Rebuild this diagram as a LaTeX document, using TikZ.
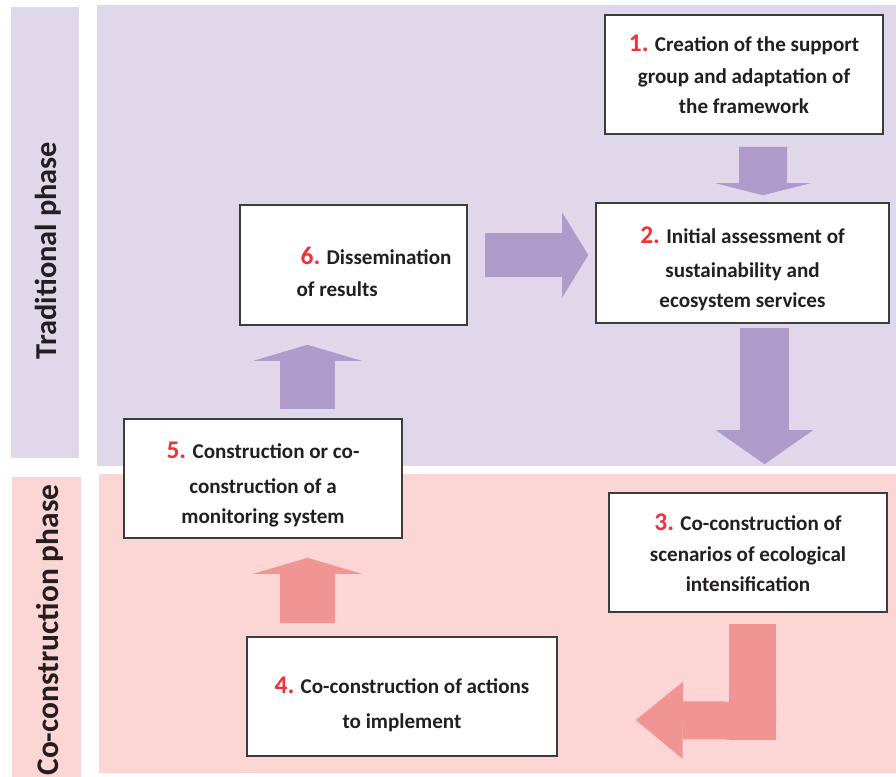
\documentclass[tikz,border=0pt]{standalone}
\usepackage{fontspec}
\setmainfont{Carlito}
\usetikzlibrary{positioning,calc,arrows.meta}
\definecolor{tradbg}{HTML}{E0D7EB}
\definecolor{tradarrow}{HTML}{AE9BC9}
\definecolor{cobg}{HTML}{FCD5D5}
\definecolor{coarrow}{HTML}{F09494}
\definecolor{numred}{HTML}{EE3338}
\definecolor{textdark}{HTML}{231F20}
\definecolor{boxline}{HTML}{3C3C3C}
\newcommand{\stepnum}[1]{{\fontsize{14.5}{17}\selectfont\color{numred}#1}}

\begin{document}
\begin{tikzpicture}
  [x=0.02cm,y=-0.02cm,
   stepN/.style={draw=boxline,line width=0.9pt,fill=white,text=textdark,align=center,
     font=\fontsize{12}{17}\selectfont\bfseries,
     minimum width=5.56cm,minimum height=2.38cm,inner sep=0pt},
   labelN/.style={text=textdark,font=\fontsize{12}{17}\selectfont\bfseries,inner sep=0pt},
   phaseN/.style={rotate=90,text=textdark,font=\fontsize{17.3}{20}\selectfont\bfseries,inner sep=0pt},
   tradA/.style={draw=tradarrow,-{Triangle[line width=0pt,#1]}},
   coA/.style={draw=coarrow,-{Triangle[line width=0pt,#1]}},
  ]

 \useasboundingbox (0,0) rectangle (896,777);

 % phase backgrounds
 \fill[tradbg] (11,7) rectangle (79,458);
 \fill[tradbg] (97,5) rectangle (896,466);
 \fill[cobg] (12,477) rectangle (81,777);
 \fill[cobg] (99,474) rectangle (896,773);

 \node[phaseN,anchor=base] (trad) at (56,250.5) {Traditional phase};
 \node[phaseN,font=\fontsize{17.9}{20}\selectfont\bfseries,anchor=base east] (coco) at (58,484)
   {Co-construction phase};

 % steps
 \node[stepN] (s1) at (744,74.5)
   {\stepnum{1.} Creation of the support\\[1pt]group and adaptation of\\the framework};
 \node[stepN,minimum width=5.86cm,minimum height=2.4cm] (s2) at (742.5,263)
   {{}\\[-1pt]\stepnum{2.} Initial assessment of\\[2.5pt]sustainability and\\ecosystem services};
 \node[stepN] (s3) at (748,552.5)
   {\stepnum{3.} Co-construction of\\[1pt]scenarios of ecological\\intensification};
 \node[stepN,minimum width=6.2cm] (s4) at (402,696.5)
   {{}\\[1pt]\stepnum{4.} Co-construction of actions\\[3pt]to implement};
 \node[stepN] (s5) at (263,478.5)
   {{}\\[-0.5pt]\stepnum{5.} Construction or co-\\[3pt]construction of a\\monitoring system};
 \node[stepN,minimum width=4.54cm,minimum height=2.4cm] (s6) at (353.5,265) {};
 \node[labelN,align=left,anchor=west] (t6) at ($(s6.west)+(57,7)$)
   {\hspace*{0.08cm}\stepnum{6.} Dissemination\\[1pt]of results};

 % block arrows
 \draw[tradA={width=1.9cm,length=0.24cm},line width=0.96cm]
   ($(s1.south)+(19,12)$) -- ($(s2.north)+(20.5,-7)$);
 \draw[tradA={width=1.94cm,length=0.68cm},line width=0.98cm]
   ($(s2.south)+(22,4)$) -- ($(s3.north)+(16.5,-28)$);
 \draw[tradA={width=1.7cm,length=0.52cm},line width=0.88cm]
   ($(s6.east)+(17,-10)$) -- ($(s2.west)+(-7,-8)$);
 \draw[tradA={width=2.16cm,length=0.32cm},line width=1.1cm]
   ($(s5.north)+(44.5,-9)$) -- ($(s6.south)+(-46,19)$);
 \draw[coA={width=2.16cm,length=0.32cm},line width=1.1cm]
   ($(s4.north)+(-94.5,-13)$) -- ($(s5.south)+(44.5,19)$);
 \draw[draw=coarrow,line width=0.94cm]
   ($(s3.south)+(4.5,11)$) -- ++(0,116);
 \draw[coA={width=1.54cm,length=0.94cm},line width=0.76cm]
   ($(s3.south)+(28,108)$) -- ($(s4.east)+(78,23.5)$);

\end{tikzpicture}
\end{document}
